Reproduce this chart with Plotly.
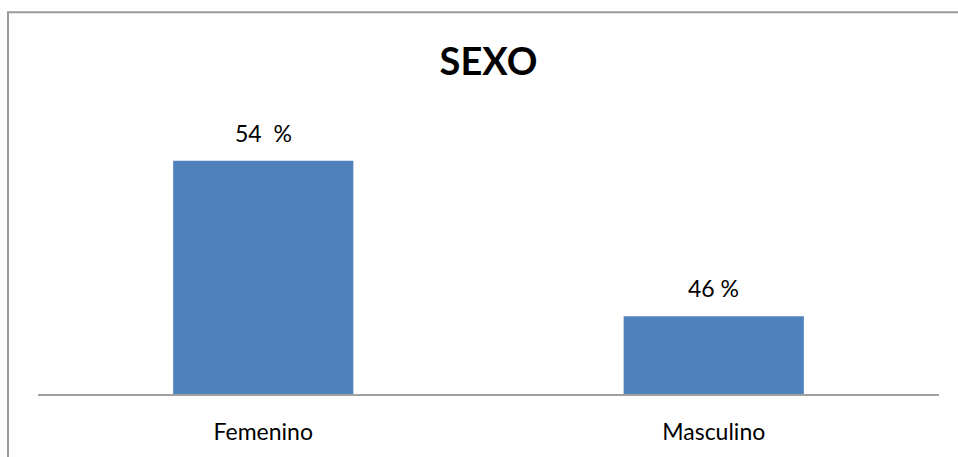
import plotly.graph_objects as go

categories = ["Femenino", "Masculino"]
values = [54, 46]
value_labels = ["54\u00a0 %", "46 %"]
title_text = "SEXO"

BAR_COLOR = "#4F81BD"
FONT = "Lato, Calibri, Carlito, sans-serif"

fig = go.Figure()
fig.add_trace(go.Bar(
    x=categories,
    y=values,
    marker=dict(color=BAR_COLOR, line=dict(width=0)),
    width=0.4,
    hoverinfo="skip",
))

for c, v, t in zip(categories, values, value_labels):
    fig.add_annotation(
        x=c, y=v, text=t, showarrow=False,
        yanchor="middle", yshift=28,
        font=dict(family=FONT, size=23, color="#000000"),
    )

fig.add_shape(
    type="rect", xref="paper", yref="paper",
    x0=(8 - 38) / 901, x1=(975 - 38) / 901, y0=-0.5, y1=(397 - 11) / 275,
    line=dict(color="#9a9a9a", width=2), fillcolor="rgba(0,0,0,0)",
    layer="above",
)

fig.update_layout(
    width=958, height=457,
    margin=dict(l=38, r=19, t=122, b=60),
    paper_bgcolor="white", plot_bgcolor="white",
    showlegend=False,
    title=dict(
        text=title_text, xref="paper", x=0.5, xanchor="center",
        yref="container", y=(457 - 62) / 457, yanchor="middle",
        font=dict(family=FONT, size=38, color="#000000", weight="bold"),
    ),
    xaxis=dict(
        showline=True, linecolor="#a0a0a0", linewidth=2,
        showgrid=False, zeroline=False, ticks="",
        ticklabelstandoff=16,
        tickfont=dict(family=FONT, size=23, color="#000000"),
        fixedrange=True,
    ),
    yaxis=dict(
        range=[42, 56], visible=False, showgrid=False, zeroline=False,
        fixedrange=True,
    ),
)

fig.write_html(
    "out.html",
    config={"displayModeBar": False},
    post_script="document.body.style.margin='0';document.body.style.overflow='hidden';",
)
